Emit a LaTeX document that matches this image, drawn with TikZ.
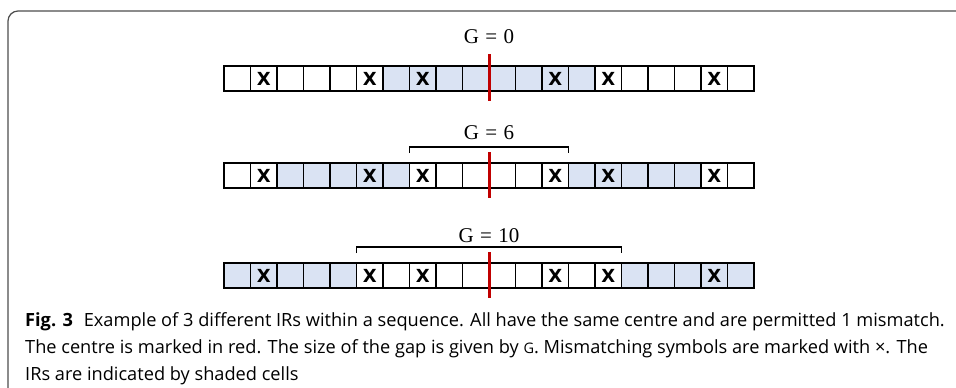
\documentclass[tikz,border=0pt]{standalone}
\usepackage{fontspec}
\setmainfont{Open Sans}
\newfontfamily\serifG{Liberation Serif}
\newfontfamily\xfont{DejaVu Sans}
\usetikzlibrary{backgrounds}
\definecolor{cellblue}{HTML}{DAE3F3}
\definecolor{centrered}{HTML}{C00000}
\definecolor{framegrey}{HTML}{4D4D4D}
\tikzset{
  cell/.style={draw=black, line width=1.3pt, minimum width=26.5pt, minimum height=25pt, inner sep=0pt, outer sep=0pt},
  xmark/.style={font=\xfont\bfseries\fontsize{18}{18}\selectfont, inner sep=0pt},
  centreline/.style={draw=centrered, line width=3pt},
  bracketline/.style={draw=black, line width=1.2pt},
  glabel/.style={font=\serifG\fontsize{21}{21}\selectfont, inner sep=0pt},
  captext/.style={font=\fontsize{18.2}{18.2}\selectfont, inner sep=0pt, anchor=base west},
  frameline/.style={draw=framegrey, line width=1.2pt, rounded corners=10pt}
}
\newcommand\seqrow[2]{%
  \foreach \i in {0,...,19}
    \node[cell] (#1c\i) at ({224+26.5*\i+13.25},{#2+12.5}) {};
}
\begin{document}
\begin{tikzpicture}[x=1pt,y=-1pt]
\useasboundingbox (0,0) rectangle (956,388);
\draw[frameline] (957,11) -- (8,11) -- (8,389);

% rows
\seqrow{ra}{66}
\seqrow{rb}{163}
\seqrow{rc}{263}

\begin{scope}[on background layer]
  \fill[cellblue] (rac6.north west) rectangle (rac13.south east);
  \fill[cellblue] (rbc2.north west) rectangle (rbc6.south east);
  \fill[cellblue] (rbc13.north west) rectangle (rbc17.south east);
  \fill[cellblue] (rcc0.north west) rectangle (rcc4.south east);
  \fill[cellblue] (rcc15.north west) rectangle (rcc19.south east);
\end{scope}

\foreach \i in {1,5,7,12,14,18} \node[xmark] (rax\i) at (rac\i) {X};
\foreach \i in {1,5,7,12,14,18} \node[xmark] (rbx\i) at (rbc\i) {X};
\foreach \i in {1,5,7,12,14,18} \node[xmark] (rcx\i) at (rcc\i) {X};

% centre lines
\coordinate (rat) at (489,54);  \coordinate (rab) at (489,101);
\coordinate (rbt) at (489,152); \coordinate (rbb) at (489,198);
\coordinate (rct) at (489,252); \coordinate (rcb) at (489,298);
\draw[centreline] (rat) -- (rab);
\draw[centreline] (rbt) -- (rbb);
\draw[centreline] (rct) -- (rcb);

% brackets
\draw[bracketline] ([yshift=10pt]rbc7.north west) -- ([yshift=16pt]rbc7.north west) -- ([yshift=16pt]rbc12.north east) -- ([yshift=10pt]rbc12.north east);
\draw[bracketline] ([yshift=10pt]rcc5.north west) -- ([yshift=16pt]rcc5.north west) -- ([yshift=16pt]rcc14.north east) -- ([yshift=10pt]rcc14.north east);

% labels
\node[glabel] (ga) at (489,37) {G\hspace{0.3em}=\hspace{0.3em}0};
\node[glabel] (gb) at (489,133) {G\hspace{0.3em}=\hspace{0.3em}6};
\node[glabel] (gc) at (489,236) {G\hspace{0.3em}=\hspace{0.3em}10};

% caption
\node[captext] (cap1) at (25,326) {\textbf{Fig. 3}\hspace{0.6em}Example of 3 different IRs within a sequence. All have the same centre and are permitted 1 mismatch.};
\node[captext] (cap2) at (25,353) {The centre is marked in red. The size of the gap is given by {\fontsize{14.5}{14.5}\selectfont G}. Mismatching symbols are marked with ×. The};
\node[captext] (cap3) at (25,380) {IRs are indicated by shaded cells};
\end{tikzpicture}
\end{document}
